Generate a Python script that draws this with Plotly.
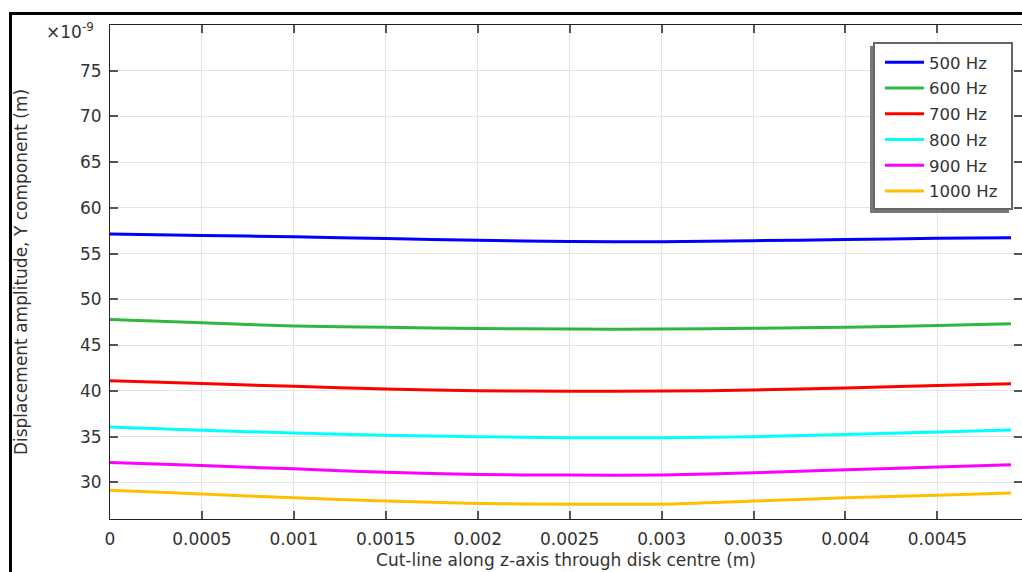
import plotly.graph_objects as go

# Position along the cut-line (m)
z_pos = [0.0, 0.0005, 0.001, 0.0015, 0.002, 0.0025, 0.003, 0.0035, 0.004, 0.0045, 0.0049]

# Y-displacement amplitude (units of 1e-9 m) for each excitation frequency
amp_500 = [57.15, 57.0, 56.85, 56.65, 56.48, 56.33, 56.32, 56.42, 56.54, 56.68, 56.75]
amp_600 = [47.8, 47.45, 47.1, 46.95, 46.82, 46.76, 46.76, 46.85, 46.97, 47.15, 47.35]
amp_700 = [41.1, 40.8, 40.5, 40.2, 40.02, 39.97, 39.98, 40.1, 40.33, 40.58, 40.78]
amp_800 = [36.05, 35.7, 35.4, 35.15, 35.0, 34.88, 34.88, 35.0, 35.25, 35.5, 35.72]
amp_900 = [32.17, 31.85, 31.48, 31.1, 30.86, 30.8, 30.82, 31.05, 31.37, 31.68, 31.92]
amp_1000 = [29.15, 28.72, 28.31, 27.98, 27.7, 27.62, 27.62, 27.96, 28.31, 28.6, 28.85]

freq_labels = ["500 Hz", "600 Hz", "700 Hz", "800 Hz", "900 Hz", "1000 Hz"]
series = [amp_500, amp_600, amp_700, amp_800, amp_900, amp_1000]
colors = ["#0000ff", "#2db83d", "#ff0000", "#00ffff", "#ff00ff", "#ffbf00"]

y_ticks = [30, 35, 40, 45, 50, 55, 60, 65, 70, 75]
x_ticks = [0, 0.0005, 0.001, 0.0015, 0.002, 0.0025, 0.003, 0.0035, 0.004, 0.0045]
x_tick_text = ["0", "0.0005", "0.001", "0.0015", "0.002", "0.0025", "0.003", "0.0035", "0.004", "0.0045"]

FONT = "DejaVu Sans"
TXT = "#333333"
FS = 17

# plot area in pixels: x 110..1022, y 25..519
PL, PW, PT, PH = 110, 912, 25, 494


def px(x):
    return (x - PL) / PW


def py(y):
    return 1 - (y - PT) / PH


fig = go.Figure()
for name, vals, col in zip(freq_labels, series, colors):
    fig.add_trace(go.Scatter(
        x=z_pos, y=vals, mode="lines", name=name, legendgroup=name,
        line=dict(color=col, width=3, shape="spline", smoothing=0.8),
    ))

axis_common = dict(
    showline=True, linecolor="#222222", linewidth=1, mirror="allticks",
    ticks="inside", ticklen=8, tickwidth=2, tickcolor="#555555",
    showgrid=True, gridcolor="#e4e4e4", gridwidth=1,
    zeroline=False, tickfont=dict(family=FONT, size=FS, color=TXT),
)

fig.update_xaxes(
    range=[0, 0.00496], tickvals=x_ticks, ticktext=x_tick_text,
    title=dict(text="Cut-line along z-axis through disk centre (m)",
               font=dict(family=FONT, size=FS, color=TXT), standoff=5),
    ticklabelstandoff=5,
    **axis_common,
)
fig.update_yaxes(
    range=[26, 80], tickvals=y_ticks,
    title=dict(text="Displacement amplitude, Y component (m)",
               font=dict(family=FONT, size=FS, color=TXT), standoff=48),
    ticklabelstandoff=4,
    **axis_common,
)

# Outer frame
fig.add_shape(type="rect", xref="paper", yref="paper",
              x0=px(10.5), x1=1.2, y0=-0.3, y1=py(13.5),
              line=dict(color="black", width=3), layer="above")
# Legend panel: drop shadow, then white box with grey border
fig.add_shape(type="rect", xref="paper", yref="paper",
              x0=px(870), x1=px(1009), y0=py(213), y1=py(46),
              line=dict(width=0), fillcolor="#777777", layer="above")
fig.add_shape(type="rect", xref="paper", yref="paper",
              x0=px(874), x1=px(1012), y0=py(209), y1=py(43),
              line=dict(color="#666666", width=2), fillcolor="white", layer="above")

fig.add_annotation(
    text="×10<sup>-9</sup>", xref="paper", yref="paper",
    x=px(96), y=py(44), xanchor="right", yanchor="bottom",
    showarrow=False, font=dict(family=FONT, size=17, color=TXT),
)

fig.update_layout(
    width=1022, height=572,
    margin=dict(l=PL, r=0, t=PT, b=572 - 519, autoexpand=False),
    paper_bgcolor="white", plot_bgcolor="white",
    font=dict(family=FONT, size=FS, color=TXT),
    legend=dict(
        x=px(880), y=py(45), xanchor="left", yanchor="top",
        bgcolor="rgba(0,0,0,0)", borderwidth=0, itemwidth=39,
        font=dict(family=FONT, size=16.5, color=TXT),
        tracegroupgap=1.3,
    ),
)

fig.write_html("out.html")
